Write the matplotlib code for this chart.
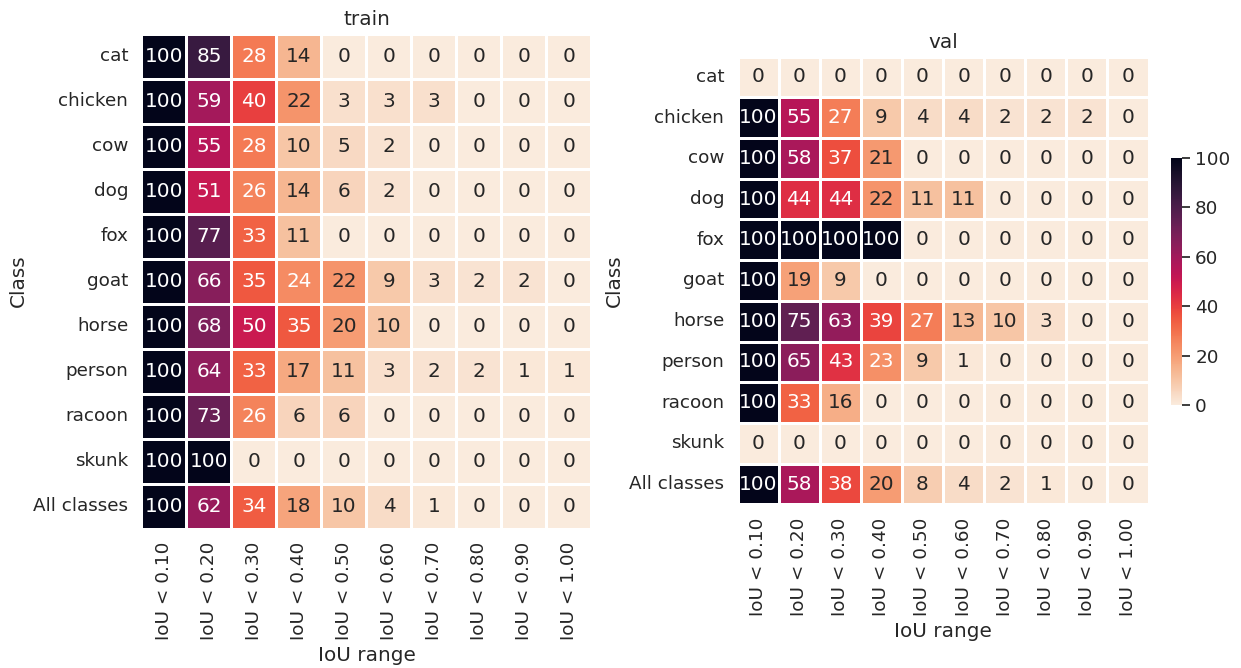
import numpy as np
import pandas as pd
import matplotlib
matplotlib.use("Agg")
import matplotlib.pyplot as plt
import seaborn as sns

classes = ["cat", "chicken", "cow", "dog", "fox", "goat", "horse", "person",
           "racoon", "skunk", "All classes"]
iou_labels = ["IoU < 0.10", "IoU < 0.20", "IoU < 0.30", "IoU < 0.40", "IoU < 0.50",
              "IoU < 0.60", "IoU < 0.70", "IoU < 0.80", "IoU < 0.90", "IoU < 1.00"]

train_vals = [
    [100, 85, 28, 14, 0, 0, 0, 0, 0, 0],
    [100, 59, 40, 22, 3, 3, 3, 0, 0, 0],
    [100, 55, 28, 10, 5, 2, 0, 0, 0, 0],
    [100, 51, 26, 14, 6, 2, 0, 0, 0, 0],
    [100, 77, 33, 11, 0, 0, 0, 0, 0, 0],
    [100, 66, 35, 24, 22, 9, 3, 2, 2, 0],
    [100, 68, 50, 35, 20, 10, 0, 0, 0, 0],
    [100, 64, 33, 17, 11, 3, 2, 2, 1, 1],
    [100, 73, 26, 6, 6, 0, 0, 0, 0, 0],
    [100, 100, 0, 0, 0, 0, 0, 0, 0, 0],
    [100, 62, 34, 18, 10, 4, 1, 0, 0, 0],
]

val_vals = [
    [0, 0, 0, 0, 0, 0, 0, 0, 0, 0],
    [100, 55, 27, 9, 4, 4, 2, 2, 2, 0],
    [100, 58, 37, 21, 0, 0, 0, 0, 0, 0],
    [100, 44, 44, 22, 11, 11, 0, 0, 0, 0],
    [100, 100, 100, 100, 0, 0, 0, 0, 0, 0],
    [100, 19, 9, 0, 0, 0, 0, 0, 0, 0],
    [100, 75, 63, 39, 27, 13, 10, 3, 0, 0],
    [100, 65, 43, 23, 9, 1, 0, 0, 0, 0],
    [100, 33, 16, 0, 0, 0, 0, 0, 0, 0],
    [0, 0, 0, 0, 0, 0, 0, 0, 0, 0],
    [100, 58, 38, 20, 8, 4, 2, 1, 0, 0],
]

sns.set_theme(font_scale=1.2)

df_train = pd.DataFrame(train_vals, index=classes, columns=iou_labels)
df_val = pd.DataFrame(val_vals, index=classes, columns=iou_labels)

fig = plt.figure(figsize=(12.41, 6.68), dpi=100)
ax1 = fig.add_axes([0.1140, 0.2088, 0.3626, 0.741])
ax2 = fig.add_axes([0.5943, 0.2449, 0.3312, 0.6704])
cax = fig.add_axes([0.9436, 0.3937, 0.0089, 0.3698])

# same colour scale for both panels, only val gets the colorbar
sns.heatmap(df_train, ax=ax1, annot=True, fmt="d", cmap="rocket_r", vmin=0, vmax=100,
            linewidths=0.8, linecolor="white", cbar=False)
sns.heatmap(df_val, ax=ax2, annot=True, fmt="d", cmap="rocket_r", vmin=0, vmax=100,
            linewidths=0.8, linecolor="white", cbar_ax=cax)

for ax, name in [(ax1, "train"), (ax2, "val")]:
    ax.set_title(name)
    ax.set_xlabel("IoU range")
    ax.set_ylabel("Class")
    ax.set_yticklabels(ax.get_yticklabels(), rotation=0)
    ax.set_xticklabels(ax.get_xticklabels(), rotation=90)

cax.set_yticks([0, 20, 40, 60, 80, 100])

fig.savefig("out.png", dpi=100)
